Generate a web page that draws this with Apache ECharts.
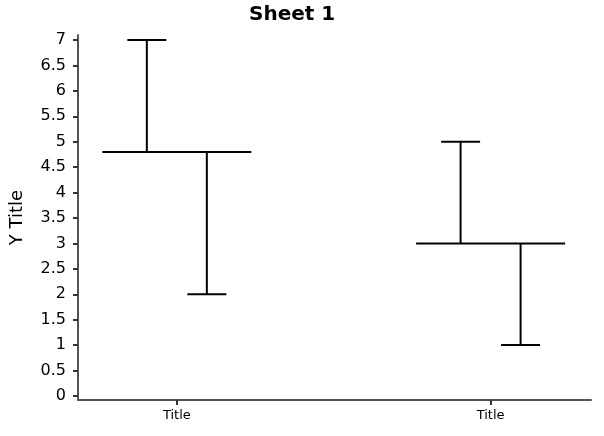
<!DOCTYPE html>
<html>
<head>
<meta charset="utf-8">
<script src="https://cdn.jsdelivr.net/npm/echarts@6/dist/echarts.min.js"></script>
<style>html,body{margin:0;padding:0;background:#fff}#c{width:604px;height:436px}</style>
</head>
<body>
<div id="c"></div>
<script>
var categories = ['Title', 'Title'];
var means = [4.8, 3];
var highs = [7, 5];
var lows = [2, 1];
var yTicks = [0, 0.5, 1, 1.5, 2, 2.5, 3, 3.5, 4, 4.5, 5, 5.5, 6, 6.5, 7];

var data = categories.map(function (c, i) { return [i, means[i], highs[i], lows[i]]; });

var chart = echarts.init(document.getElementById('c'));
var FONT = 'DejaVu Sans';
chart.setOption({
  animation: false,
  title: {
    text: 'Sheet 1', left: 244, top: 0,
    textStyle: { fontFamily: FONT, fontWeight: 'bold', fontSize: 20, color: '#000' }
  },
  grid: { left: 78, right: 13, top: 35, bottom: 36 },
  xAxis: {
    type: 'value', min: -0.315, max: 1.32,
    axisLine: { show: true, onZero: false, lineStyle: { color: '#555', width: 2 } },
    axisTick: { show: true, length: 5, lineStyle: { color: '#333', width: 2 }, customValues: [0, 1] },
    axisLabel: {
      customValues: [0, 1], margin: 9,
      formatter: function (v) { return categories[Math.round(v)]; },
      fontFamily: FONT, fontSize: 13, color: '#000'
    },
    splitLine: { show: false }
  },
  yAxis: {
    type: 'value', min: -0.08, max: 7.1,
    name: 'Y Title', nameLocation: 'middle', nameGap: 52,
    nameTextStyle: { fontFamily: FONT, fontSize: 18, color: '#000' },
    axisLine: { show: true, onZero: false, lineStyle: { color: '#555', width: 2 } },
    axisTick: { show: true, length: 5, lineStyle: { color: '#333', width: 2 }, customValues: yTicks },
    axisLabel: { customValues: yTicks, margin: 12, fontFamily: FONT, fontSize: 16, color: '#000' },
    splitLine: { show: false }
  },
  series: [{
    type: 'custom',
    data: data,
    renderItem: function (params, api) {
      var x = api.value(0);
      var m = api.coord([x, api.value(1)]);
      var h = api.coord([x, api.value(2)]);
      var l = api.coord([x, api.value(3)]);
      var halfW = 74.5, off = 30, cap = 19.5;
      var st = { stroke: '#000', lineWidth: 2, fill: null };
      var ux = m[0] - off, lx = m[0] + off;
      return {
        type: 'group',
        children: [
          { type: 'line', shape: { x1: m[0] - halfW, y1: m[1], x2: m[0] + halfW, y2: m[1] }, style: st },
          { type: 'line', shape: { x1: ux, y1: m[1], x2: ux, y2: h[1] }, style: st },
          { type: 'line', shape: { x1: ux - cap, y1: h[1], x2: ux + cap, y2: h[1] }, style: st },
          { type: 'line', shape: { x1: lx, y1: m[1], x2: lx, y2: l[1] }, style: st },
          { type: 'line', shape: { x1: lx - cap, y1: l[1], x2: lx + cap, y2: l[1] }, style: st }
        ]
      };
    }
  }]
});
</script>
</body>
</html>
